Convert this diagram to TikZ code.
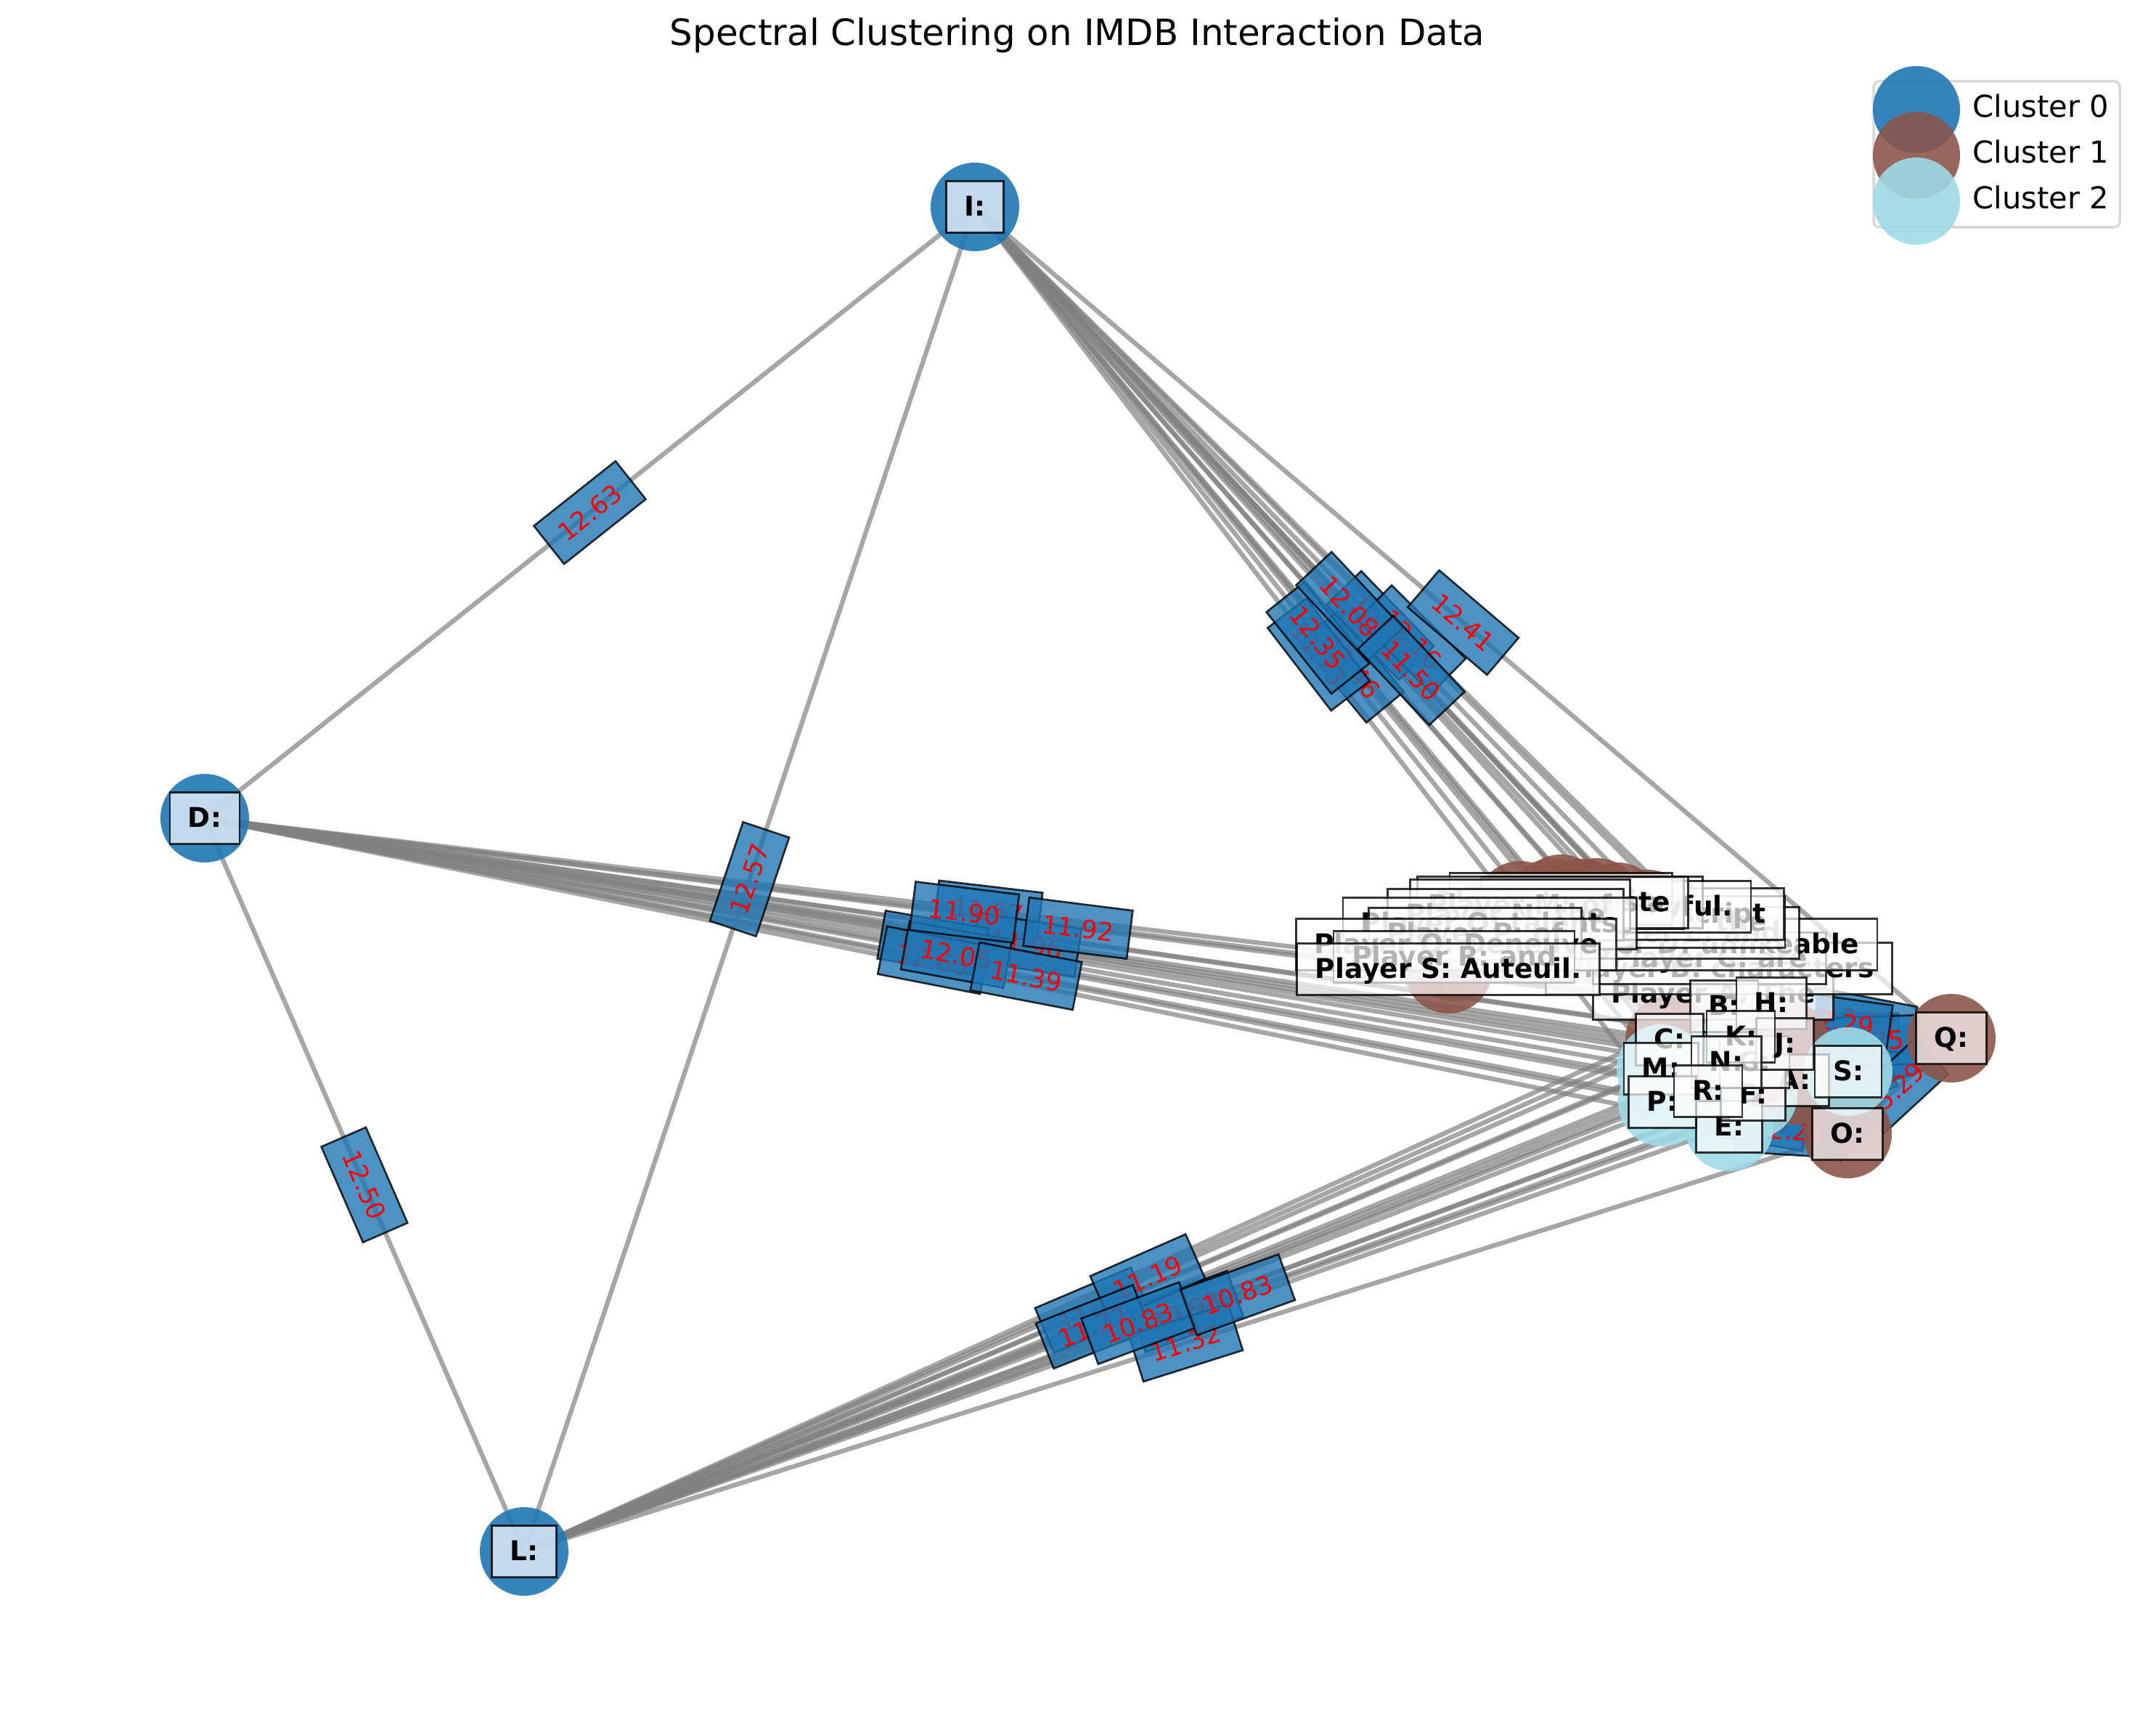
\documentclass[tikz,border=0pt]{standalone}
\usepackage{fontspec}
\setmainfont{DejaVu Sans}
\definecolor{tblue}{HTML}{1F77B4}
\definecolor{tbrown}{HTML}{8C564B}
\definecolor{tcyan}{HTML}{9EDAE5}
\definecolor{egray}{HTML}{808080}
\definecolor{lgframe}{HTML}{D9D9D9}
\newcommand\nlfont{\fontsize{10.67}{12}\selectfont\bfseries}
\newcommand\elfont{\fontsize{9.9}{11}\selectfont}
\tikzset{
  edge/.style={draw=egray, draw opacity=0.7, line width=1.8pt},
  vtx/.style={circle, minimum size=1.22cm, inner sep=0pt, draw=none, fill opacity=0.9},
  c0/.style={vtx, fill=tblue},
  c1/.style={vtx, fill=tbrown},
  c2/.style={vtx, fill=tcyan},
  nlab/.style={draw=black, draw opacity=0.8, fill=white, fill opacity=0.7, text opacity=1,
    line width=0.75pt, inner xsep=0.25cm, inner ysep=0pt, minimum height=0.71cm,
    text height=0.73em, text depth=0pt, font=\nlfont},
  elab/.style={draw=black, draw opacity=0.8, fill=tblue, fill opacity=0.8, text opacity=1,
    text=red, line width=0.75pt, inner xsep=0.22cm, inner ysep=0pt, minimum height=0.67cm,
    text height=0.73em, text depth=0pt, font=\elfont, sloped},
  lgtext/.style={anchor=west, inner sep=0pt, text height=0.73em, text depth=0pt,
    font=\fontsize{11.85}{13}\selectfont}
}
\begin{document}
\begin{tikzpicture}
\useasboundingbox (0,0) rectangle (29.70,-23.65);
% ---- positions of graph nodes
\foreach \n/\x/\y in {I/13.43/-2.85, D/2.82/-11.27, L/7.22/-21.37,
  A/24.72/-14.88, B/23.75/-13.86, C/23.00/-14.32, E/23.82/-15.52, F/24.15/-15.08,
  G/24.17/-14.63, H/24.40/-13.82, J/24.59/-14.38, K/23.98/-14.28, M/22.88/-14.72,
  N/23.78/-14.63, O/25.45/-15.62, P/22.90/-15.18, Q/26.88/-14.30, R/23.53/-15.03,
  S/25.46/-14.76}
  \coordinate (p\n) at (\x,\y);
\foreach \n/\x/\y in {A/23.60/-13.69, B/23.68/-13.34, C/23.55/-13.20, D/23.49/-13.01,
  E/23.14/-12.85, F/23.00/-12.70, G/22.70/-12.59, H/22.00/-12.43, I/22.28/-12.49,
  J/21.50/-12.38, K/21.80/-12.44, L/21.39/-12.43, M/20.94/-12.47, N/20.74/-12.60,
  O/20.52/-12.72, P/20.32/-12.86, Q/20.06/-13.01, R/20.03/-13.18, S/19.95/-13.35}
  \coordinate (w\n) at (\x,\y);
% ---- edges
\foreach \s in {D,I,L}{
  \foreach \t in {A,B,C,E,F,G,H,J,K,M,N,O,P,Q,R,S}{
    \draw[edge] (p\s) -- (p\t);
  }
}
\foreach \s/\t in {I/D, I/L, D/L, Q/B, Q/H, Q/J, Q/K, Q/A, Q/F, Q/E, Q/O, O/A, O/F, O/E, O/P}
  \draw[edge] (p\s) -- (p\t);
% ---- edge labels
\foreach \s/\t/\v in {I/D/12.63, I/L/12.57, D/L/12.50,
  I/E/12.46, I/P/11.73, I/M/12.35, I/J/12.26, I/S/12.16, I/B/12.08, I/O/11.50, I/Q/12.41,
  D/H/11.67, D/S/11.96, D/M/12.13, D/P/12.63, D/R/12.05, D/B/11.90, D/Q/11.92, D/O/11.39,
  L/M/11.13, L/S/10.98, L/H/11.19, L/P/11.27, L/O/11.32, L/F/10.83, L/Q/10.83,
  O/A/12.22, O/F/12.21, Q/F/12.28, Q/A/12.23, Q/K/12.26, Q/H/12.24,
  Q/E/12.27, O/P/12.24, O/E/12.20, Q/J/12.25, Q/B/12.29, Q/O/5.29}
  \path (p\s) -- node[elab] (e\s\t) {\v} (p\t);
% ---- node circles
\foreach \n in {A,B,C,D,E,F,G,H,I,J,K,L,M,N,O,P,Q,R,S}
  \node[c1] (cw\n) at (w\n) {};
\foreach \n/\c in {D/c0, I/c0, L/c0, A/c1, B/c2, C/c1, E/c2, F/c2, G/c1, H/c2, J/c1,
  K/c1, M/c2, N/c2, O/c1, P/c2, Q/c1, R/c2, S/c2}
  \node[\c] (v\n) at (p\n) {};
% ---- long labels
\foreach \n/\w in {A/The, B/characters, C/are, D/unlikeable, E/and, F/the, G/script,
  H/is, I/awful., J/It's, K/a, L/waste, M/of, N/the, O/talents, P/of, Q/Deneuve,
  R/and, S/Auteuil.}
  \node[nlab] (u\n) at (w\n) {Player \n: \w};
% ---- short labels
\foreach \n in {A,B,C,D,E,F,G,H,I,J,K,L,M,N,O,P,Q,R,S}
  \node[nlab] (t\n) at (p\n) {\n:};
% ---- title
\node[inner sep=0pt, text height=0.73em, text depth=0pt, font=\fontsize{14.2}{16}\selectfont]
  (title) at (14.84,-0.50) {Spectral Clustering on IMDB Interaction Data};
% ---- legend
\node[draw=lgframe, line width=1pt, rounded corners=0.08cm, fill=white, fill opacity=0.8,
  minimum width=3.39cm, minimum height=2.01cm, inner sep=0pt] (legend) at (27.505,-2.125) {};
\node[c0, minimum size=1.20cm] (lg0) at (26.40,-1.51) {};
\node[c1, minimum size=1.20cm] (lg1) at (26.40,-2.14) {};
\node[c2, minimum size=1.20cm] (lg2) at (26.40,-2.77) {};
\node[lgtext] (lt0) at (27.17,-1.49) {Cluster 0};
\node[lgtext] (lt1) at (27.17,-2.12) {Cluster 1};
\node[lgtext] (lt2) at (27.17,-2.75) {Cluster 2};
\end{tikzpicture}
\end{document}
